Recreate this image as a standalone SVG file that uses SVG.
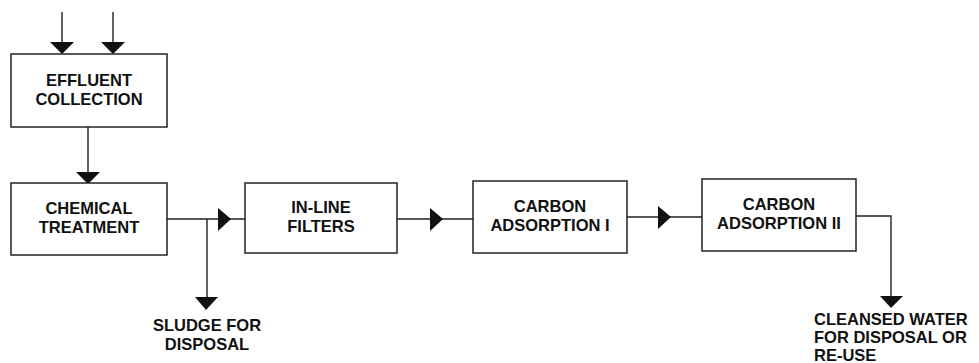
<svg xmlns="http://www.w3.org/2000/svg" width="979" height="363" viewBox="0 0 979 363">
<style>
.box{fill:#fff;stroke:#222;stroke-width:1.5}
.t{font-family:"Liberation Sans",Arial,sans-serif;font-weight:bold;font-size:16.5px;fill:#111;text-anchor:middle}
.ln{fill:none;stroke:#222;stroke-width:1.4}
.ah{fill:#111}
</style>
<rect width="979" height="363" fill="#fff"/>
<g id="connectors">
  <path class="ln" d="M62,12V44 M113,12V44"/>
  <polygon class="ah" points="50,42 74,42 62,54"/>
  <polygon class="ah" points="101,42 125,42 113,54"/>
  <path class="ln" d="M88,127V173"/>
  <polygon class="ah" points="76,172 100,172 88,184"/>
  <path class="ln" d="M167,219H245 M207,219V299"/>
  <polygon class="ah" points="218,208 231,219 218,231"/>
  <polygon class="ah" points="195,297 218,297 206,310"/>
  <path class="ln" d="M397,219H473"/>
  <polygon class="ah" points="430,208 443,219 430,231"/>
  <path class="ln" d="M627,217H702"/>
  <polygon class="ah" points="658,206 671,217 658,229"/>
  <path class="ln" d="M856,216H891V298"/>
  <polygon class="ah" points="880,296 903,296 891,308"/>
</g>
<g id="effluent">
  <rect class="box" x="11" y="54" width="156" height="73"/>
  <text class="t" x="89" y="86">EFFLUENT</text>
  <text class="t" x="89" y="105">COLLECTION</text>
</g>
<g id="chemical">
  <rect class="box" x="11" y="183" width="156" height="72"/>
  <text class="t" x="89" y="214">CHEMICAL</text>
  <text class="t" x="89" y="233">TREATMENT</text>
</g>
<g id="filters">
  <rect class="box" x="245" y="183" width="152" height="70"/>
  <text class="t" x="321" y="213">IN-LINE</text>
  <text class="t" x="321" y="232">FILTERS</text>
</g>
<g id="carbon1">
  <rect class="box" x="473" y="181" width="154" height="72"/>
  <text class="t" x="550" y="212">CARBON</text>
  <text class="t" x="550" y="231">ADSORPTION I</text>
</g>
<g id="carbon2">
  <rect class="box" x="702" y="179" width="154" height="72"/>
  <text class="t" x="779" y="210">CARBON</text>
  <text class="t" x="779" y="229">ADSORPTION II</text>
</g>
<g id="sludge">
  <text class="t" x="207" y="331">SLUDGE FOR</text>
  <text class="t" x="207" y="350">DISPOSAL</text>
</g>
<g id="cleansed">
  <text class="t" x="814" y="325" style="text-anchor:start">CLEANSED WATER</text>
  <text class="t" x="814" y="343" style="text-anchor:start">FOR DISPOSAL OR</text>
  <text class="t" x="814" y="361" style="text-anchor:start">RE-USE</text>
</g>
</svg>
